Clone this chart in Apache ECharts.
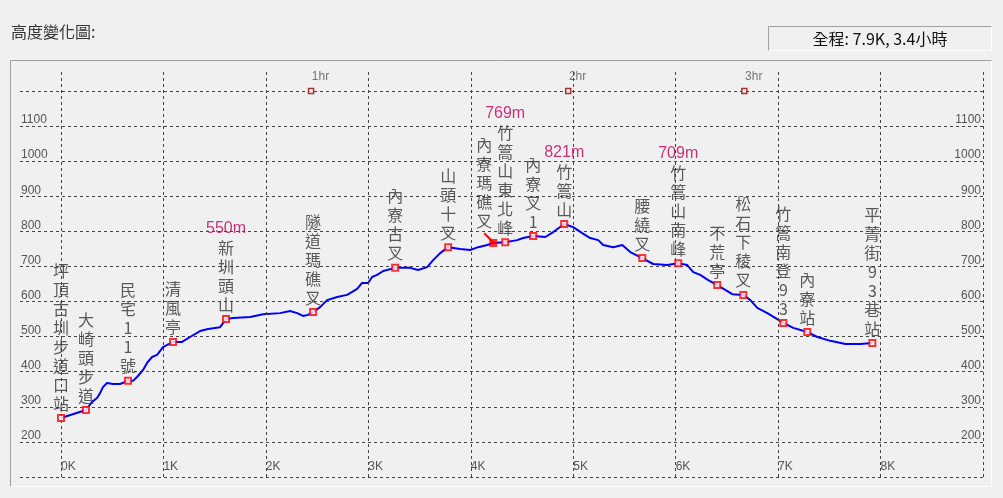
<!DOCTYPE html>
<html>
<head>
<meta charset="utf-8">
<script src="https://cdn.jsdelivr.net/npm/echarts@6/dist/echarts.min.js"></script>
<style>
  html, body { margin: 0; padding: 0; background: #f0f0f0; }
  #chart { width: 1003px; height: 498px; }
</style>
</head>
<body>
<div id="chart"></div>
<script>
// profile trace: distance (km) / elevation (m)
const distKm = [0.00,0.244,0.303,0.352,0.381,0.410,0.449,0.508,0.576,0.654,0.703,0.742,0.801,0.840,0.889,0.938,0.996,1.094,1.182,1.260,1.357,1.436,1.553,1.611,1.680,1.846,1.973,2.139,2.236,2.305,2.363,2.412,2.461,2.529,2.598,2.695,2.793,2.891,2.939,2.998,3.037,3.086,3.145,3.262,3.408,3.486,3.574,3.633,3.701,3.779,3.896,3.994,4.072,4.160,4.219,4.336,4.453,4.512,4.609,4.727,4.805,4.912,5.000,5.088,5.166,5.244,5.293,5.391,5.479,5.557,5.674,5.781,5.918,6.025,6.113,6.172,6.240,6.318,6.406,6.484,6.553,6.660,6.729,6.797,6.895,7.051,7.148,7.285,7.383,7.510,7.656,7.803,7.920];
const elevM = [268,291,314,325,339,356,368,365,365,374,374,385,405,425,442,448,470,485,485,499,516,522,527,550,553,556,564,567,573,567,559,562,570,584,604,613,619,636,653,653,670,676,687,696,696,690,698,718,738,755,750,747,755,761,767,769,775,781,787,784,798,821,812,795,781,775,761,755,761,741,724,707,704,709,704,684,676,661,647,633,621,619,604,582,567,539,525,513,499,488,479,479,482];

// waypoints
const wpNames = ['坪頂古圳步道口站','大崎頭步道','民宅11號','清風亭','新圳頭山','隧道瑪礁叉','內寮古叉','山頭十叉','內寮瑪礁叉','竹篙山東北峰','內寮叉1','竹篙山','腰繞叉','竹篙山南峰','不荒亭','松石下稜叉','竹篙南登93','內寮站','平菁街93巷站'];
const wpDist = [0.00,0.244,0.654,1.094,1.611,2.461,3.262,3.779,4.219,4.336,4.609,4.912,5.674,6.025,6.406,6.660,7.051,7.285,7.920];
const wpElev = [268,291,374,485,550,570,696,755,767,769,787,821,724,709,647,619,539,513,482];
const wpPeak = ['','','','','550m','','','','','769m','','821m','','709m','','','','',''];

// leader from the shifted label to 內寮瑪礁叉
const leaderDist = [4.131, 4.219];
const leaderElev = [795, 769];

// time marks along the top
const hourLabels = ['1hr','2hr','3hr'];
const hourDist = [2.441, 4.951, 6.670];
const hourElev = 1200;

const kmTicks = [0,1,2,3,4,5,6,7,8];
const kmLines = [0,1,2,3,4,5,6,7,8,9];
const elevTicks = [200,300,400,500,600,700,800,900,1000,1100];

const chart = echarts.init(document.getElementById('chart'));

const gridDash = { color: '#444', width: 1, type: [3, 3] };
const axisFont = { color: '#555', fontSize: 12, fontFamily: 'Liberation Sans' };

const option = {
  backgroundColor: '#f0f0f0',
  animation: false,
  grid: { left: 20, right: 20, top: 71, bottom: 21 },
  xAxis: {
    type: 'value',
    min: -0.4,
    max: 9,
    axisLine: { show: false },
    axisTick: { show: false },
    splitLine: { show: false },
    axisLabel: Object.assign({
      customValues: kmTicks,
      formatter: v => v + 'K',
      inside: true,
      align: 'left',
      verticalAlign: 'bottom',
      margin: 4
    }, axisFont)
  },
  yAxis: [
    {
      type: 'value',
      min: 100,
      max: 1257,
      interval: 100,
      axisLine: { show: false },
      axisTick: { show: false },
      splitLine: { show: true, showMaxLine: false, lineStyle: gridDash },
      axisLabel: Object.assign({
        inside: true,
        align: 'left',
        verticalAlign: 'bottom',
        margin: 1,
        formatter: v => elevTicks.includes(v) ? String(v) : ''
      }, axisFont)
    },
    {
      type: 'value',
      position: 'right',
      min: 100,
      max: 1257,
      interval: 100,
      axisLine: { show: false },
      axisTick: { show: false },
      splitLine: { show: false },
      axisLabel: Object.assign({
        inside: true,
        align: 'right',
        verticalAlign: 'bottom',
        margin: 2,
        formatter: v => elevTicks.includes(v) ? String(v) : ''
      }, axisFont)
    }
  ],
  graphic: [
    { type: 'text', left: 11, top: 24, style: { text: '高度變化圖:', fill: '#333', font: '16px "Noto Sans CJK TC"' } },
    { type: 'line', shape: { x1: 768.5, y1: 26.5, x2: 992, y2: 26.5 }, style: { stroke: '#a0a0a0', lineWidth: 1 } },
    { type: 'line', shape: { x1: 768.5, y1: 26.5, x2: 768.5, y2: 51 }, style: { stroke: '#a0a0a0', lineWidth: 1 } },
    { type: 'line', shape: { x1: 768.5, y1: 50.5, x2: 992, y2: 50.5 }, style: { stroke: '#fff', lineWidth: 1 } },
    { type: 'line', shape: { x1: 991.5, y1: 26.5, x2: 991.5, y2: 51 }, style: { stroke: '#fff', lineWidth: 1 } },
    { type: 'text', x: 880, y: 39, style: { text: '全程: 7.9K, 3.4小時', fill: '#111', font: '16px "Noto Sans CJK TC"', align: 'center', verticalAlign: 'middle' } },
    { type: 'line', shape: { x1: 10.5, y1: 60.5, x2: 992, y2: 60.5 }, style: { stroke: '#a0a0a0', lineWidth: 1 } },
    { type: 'line', shape: { x1: 10.5, y1: 60.5, x2: 10.5, y2: 487 }, style: { stroke: '#a0a0a0', lineWidth: 1 } },
    { type: 'line', shape: { x1: 10.5, y1: 486.5, x2: 992, y2: 486.5 }, style: { stroke: '#fff', lineWidth: 1 } },
    { type: 'line', shape: { x1: 991.5, y1: 60.5, x2: 991.5, y2: 487 }, style: { stroke: '#fff', lineWidth: 1 } }
  ],
  series: [
    {
      name: 'hours',
      type: 'scatter',
      z: 1,
      symbol: 'rect',
      symbolSize: 5,
      itemStyle: { color: '#fff', borderColor: '#990000', borderWidth: 1.5 },
      data: hourDist.map((d, i) => ({ value: [d, hourElev], name: hourLabels[i] })),
      label: {
        show: true,
        formatter: p => p.name,
        position: [4, -17],
        align: 'left',
        verticalAlign: 'top',
        color: '#555',
        fontSize: 12,
        fontFamily: 'Liberation Sans'
      },
      markLine: {
        silent: true,
        symbol: 'none',
        label: { show: false },
        lineStyle: gridDash,
        data: kmLines.map(k => ({ xAxis: k }))
      }
    },
    {
      name: 'profile',
      type: 'line',
      z: 3,
      showSymbol: false,
      symbol: 'none',
      lineStyle: { color: '#0000ff', width: 2 },
      data: distKm.map((d, i) => [d, elevM[i]])
    },
    {
      name: 'leader',
      type: 'line',
      z: 4,
      showSymbol: false,
      symbol: 'none',
      lineStyle: { color: '#ff0000', width: 2 },
      data: leaderDist.map((d, i) => [d, leaderElev[i]])
    },
    {
      name: 'waypoints',
      type: 'scatter',
      z: 5,
      symbol: 'rect',
      symbolSize: 6,
      itemStyle: { color: '#fff', borderColor: '#ff0000', borderWidth: 2 },
      data: wpDist.map((d, i) => {
        const item = { value: [d, wpElev[i]], name: wpNames[i], peak: wpPeak[i] };
        if (wpNames[i] === '內寮瑪礁叉') {
          item.symbolSize = 8;
          item.itemStyle = { color: '#ff0000', borderColor: '#ff0000', borderWidth: 0 };
          item.label = { offset: [-9, -8] };
        }
        return item;
      }),
      label: {
        show: true,
        position: 'top',
        distance: 1,
        color: '#333',
        fontSize: 16,
        lineHeight: 19,
        fontFamily: 'Noto Sans CJK TC',
        formatter: p => {
          const s = Array.from(p.data.name).join('\n');
          return p.data.peak ? '{e|' + p.data.peak + '}\n' + s : s;
        },
        rich: {
          e: { color: '#c0005c', fontSize: 16, lineHeight: 19, fontFamily: 'Liberation Sans' }
        }
      }
    }
  ]
};

chart.setOption(option);
</script>
</body>
</html>
